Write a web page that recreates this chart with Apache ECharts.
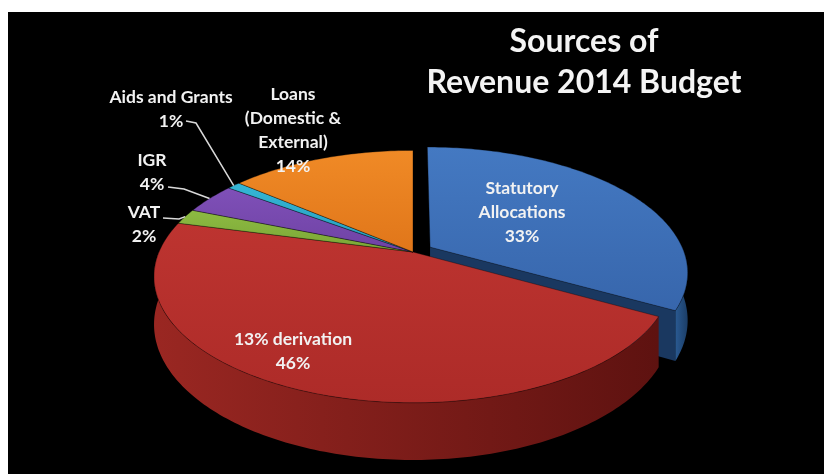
<!DOCTYPE html>
<html>
<head>
<meta charset="utf-8">
<script src="https://cdn.jsdelivr.net/npm/echarts@6/dist/echarts.min.js"></script>
<style>
  html, body { margin: 0; padding: 0; background: #ffffff; }
  #chart { width: 824px; height: 474px; }
</style>
</head>
<body>
<div id="chart"></div>
<script>
// Revenue sources, share of the 2014 budget (%)
const categories = [
  'Statutory\nAllocations',
  '13% derivation',
  'VAT',
  'IGR',
  'Aids and Grants',
  'Loans\n(Domestic &\nExternal)'
];
const shares = [33, 46, 2, 4, 1, 14];
const titleLines = ['Sources of', 'Revenue 2014 Budget'];

// Slice colours: top face, outer wall (light → dark), cut face
const palette = [
  { top: ['#4479c2', '#3766ac'], wall: ['#2a5a92', '#1b3d66'], cut: '#1a3860' },
  { top: ['#bd3430', '#ad2b28'], wall: ['#9a2722', '#5e1210'], cut: '#6e1714' },
  { top: ['#8dbb42', '#7aa636'], wall: ['#4e6e1e', '#3a5416'], cut: '#3f5a18' },
  { top: ['#7f50b8', '#6f42a4'], wall: ['#4a2a70', '#3a205a'], cut: '#3d235c' },
  { top: ['#35b6d6', '#279cbb'], wall: ['#1a6e82', '#145866'], cut: '#1a6e82' },
  { top: ['#f08a26', '#e0761a'], wall: ['#9c520f', '#7a400b'], cut: '#a85a12' }
];

// Projection of the tilted disc: centre, radius, vertical squash, perspective, thickness
const geo = { cx: 413, cy: 252, R: 254, k: 0.478, beta: 0.195, H: 46 };
const explode = [20, 0, 0, 0, 0, 0];

// Label placement (block centre) and leader-line elbows
const labelLayout = [
  { x: 522, y: 212 },
  { x: 293, y: 351 },
  { x: 144, y: 224, elbow: [[163, 218], [179, 219]] },
  { x: 152, y: 172, elbow: [[168, 187], [184, 189]] },
  { x: 171, y: 109, elbow: [[186, 121], [196, 123]] },
  { x: 293, y: 130 }
];

const total = shares.reduce((a, b) => a + b, 0);
const starts = [];
let acc = 0;
shares.forEach(v => { starts.push(acc / total * 360); acc += v; });

function rad(d) { return d * Math.PI / 180; }

function proj(theta, r, down, off) {
  const t = rad(theta);
  const X = r * Math.sin(t) + off[0];
  const Z = r * Math.cos(t) + off[1];
  const p = 1 / (1 + geo.beta * Z / geo.R);
  return [geo.cx + X * p, geo.cy - Z * geo.k * p + down * p];
}

function arc(a0, a1, r, down, off) {
  const pts = [];
  const n = Math.max(2, Math.ceil(Math.abs(a1 - a0) / 1));
  for (let j = 0; j <= n; j++) pts.push(proj(a0 + (a1 - a0) * j / n, r, down, off));
  return pts;
}

function offsetFor(i) {
  const mid = rad((starts[i] + (starts[i] + shares[i] / total * 360)) / 2);
  return [explode[i] * Math.sin(mid), explode[i] * Math.cos(mid)];
}

function renderItem(params, api) {
  const i = params.dataIndex;
  const v = api.value(0);
  const a0 = starts[i];
  const a1 = a0 + v / total * 360;
  const off = offsetFor(i);
  const col = palette[i];
  const children = [];

  // outer curved wall, visible on the front half
  const w0 = Math.max(a0, 90), w1 = Math.min(a1, 270);
  if (w1 > w0) {
    const topArc = arc(w0, w1, geo.R, 0, off);
    const botArc = arc(w0, w1, geo.R, geo.H, off).reverse();
    children.push({
      type: 'polygon', z2: 10 + i,
      shape: { points: topArc.concat(botArc) },
      style: {
        fill: new echarts.graphic.LinearGradient(0, 0, 1, 0, [
          { offset: 0, color: col.wall[0] }, { offset: 1, color: col.wall[1] }
        ])
      }
    });
  }

  // cut faces exposed by the pulled-out slice
  const n = shares.length;
  const prevExp = explode[(i - 1 + n) % n] > 0, nextExp = explode[(i + 1) % n] > 0;
  const edges = [];
  if ((explode[i] > 0 || nextExp) && Math.cos(rad(a1 + 90)) < 0) edges.push(a1);
  if ((explode[i] > 0 || prevExp) && Math.cos(rad(a0 - 90)) < 0) edges.push(a0);
  edges.forEach(a => {
    children.push({
      type: 'polygon', z2: 5 + i,
      shape: { points: [proj(a, 0, 0, off), proj(a, geo.R, 0, off), proj(a, geo.R, geo.H, off), proj(a, 0, geo.H, off)] },
      style: { fill: col.cut }
    });
  });

  // top face
  const topPts = [proj(0, 0, 0, off)].concat(arc(a0, a1, geo.R, 0, off));
  children.push({
    type: 'polygon', z2: 100 + i,
    shape: { points: topPts },
    style: {
      fill: new echarts.graphic.LinearGradient(0, 0, 0, 1, [
        { offset: 0, color: col.top[0] }, { offset: 1, color: col.top[1] }
      ]),
      stroke: 'rgba(0,0,0,0.35)', lineWidth: 1
    }
  });

  // label and optional leader line
  const lay = labelLayout[i];
  if (lay.elbow) {
    const rim = proj((a0 + a1) / 2, geo.R, 0, off);
    children.push({
      type: 'polyline', z2: 190,
      shape: { points: lay.elbow.concat([rim]) },
      style: { stroke: '#d9d9d9', lineWidth: 1.5, fill: null }
    });
  }
  children.push({
    type: 'text', z2: 200, x: lay.x, y: lay.y,
    style: {
      text: categories[i] + '\n' + v + '%',
      fill: '#f2f2f2',
      fontFamily: 'Lato', fontWeight: 'bold', fontSize: 17.5, lineHeight: 24,
      align: 'center', verticalAlign: 'middle'
    }
  });

  return { type: 'group', children: children };
}

const chart = echarts.init(document.getElementById('chart'), null, { renderer: 'canvas' });
chart.setOption({
  animation: false,
  backgroundColor: 'transparent',
  graphic: [{
    type: 'rect', z: -10, silent: true,
    shape: { x: 8, y: 12, width: 816, height: 462 },
    style: { fill: '#000000' }
  }],
  title: {
    text: titleLines.join('\n'),
    left: 579, top: 16, textAlign: 'center',
    textStyle: { color: '#f4f4f4', fontFamily: 'Lato', fontWeight: 'bold', fontSize: 32, lineHeight: 41 }
  },
  series: [{
    type: 'custom',
    coordinateSystem: 'none',
    renderItem: renderItem,
    data: shares.map((v, i) => ({ name: categories[i], value: [v] }))
  }]
});
</script>
</body>
</html>
